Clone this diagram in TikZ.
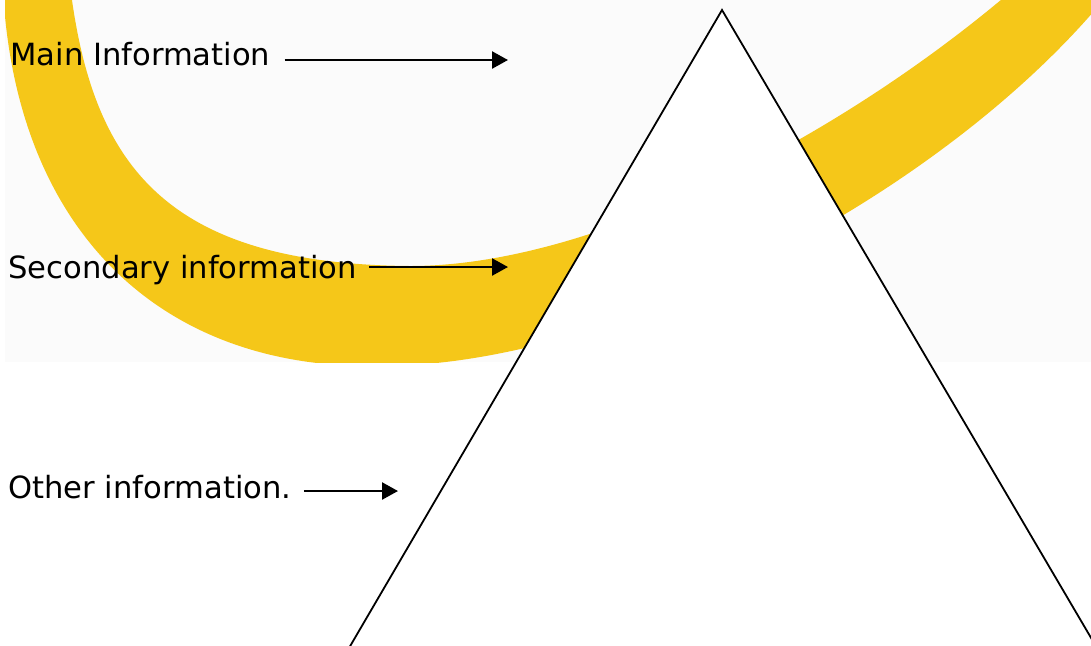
\documentclass[tikz,border=0pt]{standalone}
\usepackage{fontspec}
\setmainfont{DejaVu Sans}
\usetikzlibrary{arrows.meta}
\definecolor{swoosh}{HTML}{F5C719}
\definecolor{paper}{HTML}{FBFBFB}
\tikzstyle{infotext} = [anchor=base west, inner sep=0pt, font=\fontsize{15.3}{18}\selectfont]
\tikzstyle{arrow} = [line width=1.2pt, -{Triangle[length=8pt, width=8.5pt]}]
\tikzstyle{pyramid} = [draw=black, fill=white, line width=0.9pt]

\begin{document}
\begin{tikzpicture}[x=0.5pt, y=-0.5pt]
  \useasboundingbox (0,0) rectangle (1091,645);
  \clip (0,0) rectangle (1091,645);

  % === BACKGROUND + SWOOSH ===
  \fill[paper] (5,0) rectangle (1091,362);
  \begin{scope}
    \clip (5,0) rectangle (1091,362);
    \fill[swoosh] (3,-10) .. controls (16,230) and (160,370) .. (380,366)
      .. controls (620,366) and (950,190) .. (1110,-8)
      -- (1015,-12) .. controls (850,130) and (600,266) .. (410,266)
      .. controls (165,264) and (92,165) .. (70,-15) -- cycle;
  \end{scope}

  % === PYRAMID ===
  \draw[pyramid] (722,10) -- (349,648) -- (1097,648) -- cycle;

  % === LABELS ===
  \node[infotext] (main) at (10,65) {Main Information};
  \node[infotext] (second) at (8,278) {Secondary information};
  \node[infotext] (other) at (8,498) {Other information.};

  \coordinate (maintip) at (508,60);
  \coordinate (secondtip) at (508,267);
  \coordinate (othertip) at (398,491);

  % === ARROWS ===
  \draw[arrow] ([xshift=7pt]main.east |- maintip) -- (maintip);
  \draw[arrow] ([xshift=6pt]second.east |- secondtip) -- (secondtip);
  \draw[arrow] ([xshift=6pt]other.east |- othertip) -- (othertip);

\end{tikzpicture}
\end{document}
